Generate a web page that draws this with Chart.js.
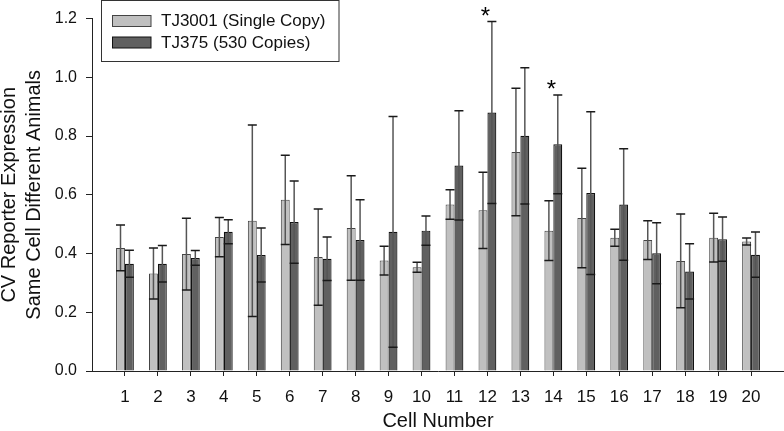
<!DOCTYPE html>
<html>
<head>
<meta charset="utf-8">
<script src="https://cdn.jsdelivr.net/npm/chart.js@4"></script>
<style>
  body { margin: 0; background: #fff; }
  #wrap { width: 784px; height: 431px; position: relative; }
</style>
</head>
<body>
<div id="wrap"><canvas id="cvChart"></canvas></div>
<script>
const cells = [1, 2, 3, 4, 5, 6, 7, 8, 9, 10, 11, 12, 13, 14, 15, 16, 17, 18, 19, 20];
const singleCopy = [0.419, 0.332, 0.398, 0.456, 0.512, 0.583, 0.388, 0.487, 0.376, 0.353,
                    0.567, 0.547, 0.746, 0.478, 0.521, 0.454, 0.446, 0.375, 0.454, 0.441];
const singleErr  = [0.078, 0.087, 0.122, 0.067, 0.326, 0.152, 0.164, 0.178, 0.049, 0.017,
                    0.050, 0.130, 0.217, 0.102, 0.169, 0.029, 0.066, 0.160, 0.083, 0.012];
const multiCopy  = [0.365, 0.365, 0.385, 0.474, 0.395, 0.507, 0.382, 0.446, 0.474, 0.478,
                    0.700, 0.880, 0.801, 0.772, 0.606, 0.567, 0.401, 0.339, 0.449, 0.396];
const multiErr   = [0.046, 0.062, 0.025, 0.041, 0.092, 0.140, 0.074, 0.137, 0.393, 0.050,
                    0.186, 0.310, 0.232, 0.168, 0.277, 0.190, 0.104, 0.094, 0.075, 0.077];
const sigCells = [12, 14];
const seriesNames = ['TJ3001 (Single Copy)', 'TJ375 (530 Copies)'];
const yTicks = [0, 0.2, 0.4, 0.6, 0.8, 1.0, 1.2];

const FONT = "'Liberation Sans', Arial, sans-serif";
const LIGHT = '#c0c0c0';
const DARK = '#606060';

// error bars (both directions) drawn over the bars
const errorBars = {
  id: 'errorBars',
  afterDatasetsDraw(chart) {
    const ctx = chart.ctx;
    const y = chart.scales.y;
    ctx.save();
    chart.data.datasets.forEach((ds, i) => {
      const meta = chart.getDatasetMeta(i);
      meta.data.forEach((bar, j) => {
        const v = ds.data[j].y, e = ds.errors[j];
        const hi = y.getPixelForValue(v + e);
        const lo = y.getPixelForValue(v - e);
        ctx.strokeStyle = '#555';
        ctx.lineWidth = 1.5;
        ctx.beginPath();
        ctx.moveTo(bar.x, hi);
        ctx.lineTo(bar.x, lo);
        ctx.stroke();
        ctx.strokeStyle = '#1a1a1a';
        ctx.beginPath();
        ctx.moveTo(bar.x - 4.5, hi);
        ctx.lineTo(bar.x + 4.5, hi);
        ctx.moveTo(bar.x - 4.5, lo);
        ctx.lineTo(bar.x + 4.5, lo);
        ctx.stroke();
      });
    });

    // significance stars above the 530-copy error bar
    ctx.fillStyle = '#000';
    ctx.font = '24px ' + FONT;
    ctx.textAlign = 'center';
    ctx.textBaseline = 'alphabetic';
    const x = chart.scales.x;
    sigCells.forEach(c => {
      const j = cells.indexOf(c);
      const top = y.getPixelForValue(multiCopy[j] + multiErr[j]);
      ctx.fillText('*', x.getPixelForValue(c) - 2, top + 2);
    });
    ctx.restore();
  }
};

// boxed legend in the top-left corner of the plot
const boxLegend = {
  id: 'boxLegend',
  afterDraw(chart) {
    const ctx = chart.ctx;
    ctx.save();
    ctx.fillStyle = '#fff';
    ctx.fillRect(101.5, 0.5, 237.5, 61);
    ctx.strokeStyle = '#333';
    ctx.lineWidth = 1;
    ctx.strokeRect(101.5, 0.5, 237.5, 61);
    const fills = [LIGHT, DARK];
    ctx.font = '17px ' + FONT;
    ctx.textBaseline = 'middle';
    ctx.textAlign = 'left';
    fills.forEach((f, i) => {
      const yy = 15.5 + i * 21.5;
      ctx.fillStyle = f;
      ctx.fillRect(112.5, yy, 38.5, 11);
      ctx.strokeStyle = i === 0 ? '#444' : '#111';
      ctx.strokeRect(112.5, yy, 38.5, 11);
      ctx.fillStyle = '#111';
      ctx.fillText(seriesNames[i], 161, yy + 6);
    });
    ctx.restore();
  }
};

new Chart(document.getElementById('cvChart'), {
  type: 'bar',
  data: {
    datasets: [{
      label: seriesNames[0],
      data: cells.map((c, i) => ({ x: c, y: singleCopy[i] })),
      errors: singleErr,
      backgroundColor: LIGHT,
      borderColor: '#444',
      borderWidth: 1
    }, {
      label: seriesNames[1],
      data: cells.map((c, i) => ({ x: c, y: multiCopy[i] })),
      errors: multiErr,
      backgroundColor: DARK,
      borderColor: '#111',
      borderWidth: 1.2
    }]
  },
  options: {
    responsive: true,
    maintainAspectRatio: false,
    animation: false,
    layout: { padding: { top: 7, right: 0, left: 0, bottom: 0 } },
    categoryPercentage: 0.54,
    barPercentage: 1,
    plugins: {
      legend: { display: false },
      tooltip: { enabled: false }
    },
    scales: {
      x: {
        type: 'linear',
        min: 0,
        max: 21,
        offset: false,
        afterBuildTicks: axis => { axis.ticks = cells.map(c => ({ value: c })); },
        afterFit: s => { s.height = 60; },
        grid: { offset: false, drawOnChartArea: false, drawTicks: true, tickLength: 5, color: '#222' },
        border: { display: true, color: '#222', width: 1 },
        ticks: {
          autoSkip: false,
          maxRotation: 0,
          padding: 11,
          color: '#111',
          font: { family: FONT, size: 17 },
          callback: v => String(v)
        },
        title: {
          display: true,
          text: 'Cell Number',
          color: '#111',
          padding: { top: 0, bottom: 0 },
          font: { family: FONT, size: 20, lineHeight: 1.0 }
        }
      },
      y: {
        min: 0,
        max: 1.2,
        afterBuildTicks: axis => { axis.ticks = yTicks.map(v => ({ value: v })); },
        afterFit: s => { s.width = 92; },
        grid: { drawOnChartArea: false, drawTicks: true, tickLength: 6, color: '#222' },
        border: { display: true, color: '#222', width: 1 },
        ticks: {
          padding: 9,
          color: '#111',
          font: { family: FONT, size: 16 },
          callback: v => v.toFixed(1)
        },
        title: {
          display: true,
          text: ['CV Reporter Expression', 'Same Cell Different Animals'],
          color: '#111',
          padding: { top: -3, bottom: 0 },
          font: { family: FONT, size: 20, lineHeight: 1.25 }
        }
      }
    }
  },
  plugins: [errorBars, boxLegend]
});
</script>
</body>
</html>
